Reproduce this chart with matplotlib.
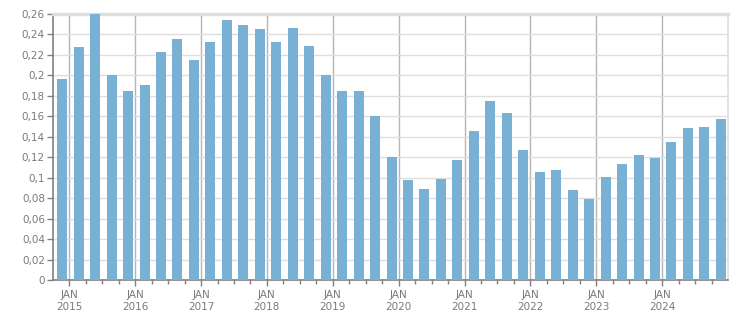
import matplotlib
matplotlib.use("Agg")
import matplotlib.pyplot as plt
import numpy as np
from matplotlib.ticker import FuncFormatter, MultipleLocator

# quarterly values, Dec 2014 .. Dec 2024
values = [
    0.197, 0.228, 0.260, 0.200,
    0.185, 0.191, 0.223, 0.236,
    0.215, 0.233, 0.254, 0.249,
    0.245, 0.233, 0.246, 0.229,
    0.200, 0.185, 0.185, 0.160,
    0.120, 0.098, 0.089, 0.099,
    0.117, 0.146, 0.175, 0.163,
    0.127, 0.106, 0.108, 0.088,
    0.079, 0.101, 0.114, 0.122,
    0.119, 0.135, 0.149, 0.150,
    0.157,
]
years = list(range(2015, 2025))
year_labels = ["JAN\n%d" % y for y in years]

bar_color = "#78b1d4"
text_color = "#7a7a7a"

# bars sit a little before each quarter start
quarter_idx = np.arange(len(values))
x = 2015 + (quarter_idx * 3 - 1.3) / 12.0

fig = plt.figure(figsize=(7.51, 3.13), dpi=100)
ax = fig.add_axes([0.071, 0.1045, 0.8984, 0.8508])

ax.bar(x, values, width=0.152, color=bar_color, zorder=3)

ax.set_xlim(2014.757, 2025.0)
ax.set_ylim(0, 0.26)

# grid
ax.yaxis.set_major_locator(MultipleLocator(0.02))
ax.grid(axis="y", color="#dedede", linewidth=1, zorder=0)
for y in years:
    ax.axvline(y, color="#b5b5b5", linewidth=1, zorder=1)

ax.set_xticks(years)
ax.set_xticklabels(year_labels)
minor = [y + q / 4 for y in range(2014, 2025) for q in (1, 2, 3)]
ax.set_xticks([m for m in minor if 2014.757 < m < 2025.0], minor=True)

ax.yaxis.set_major_formatter(
    FuncFormatter(lambda v, p: ("%g" % round(v, 2)).replace(".", ","))
)

ax.tick_params(axis="both", colors="#808080", labelcolor=text_color, labelsize=7.5)
ax.tick_params(axis="x", which="major", length=4, width=1, pad=3)
ax.tick_params(axis="x", which="minor", length=3, width=1, colors="#808080")
ax.tick_params(axis="y", length=4, width=1, pad=2)

for s in ("left", "bottom"):
    ax.spines[s].set_color("#808080")
    ax.spines[s].set_linewidth(1.2)
ax.spines["top"].set_color("#dedede")
ax.spines["top"].set_linewidth(2.5)
ax.spines["right"].set_color("#dedede")
ax.spines["right"].set_linewidth(1.2)

fig.savefig("out.png", dpi=100)
